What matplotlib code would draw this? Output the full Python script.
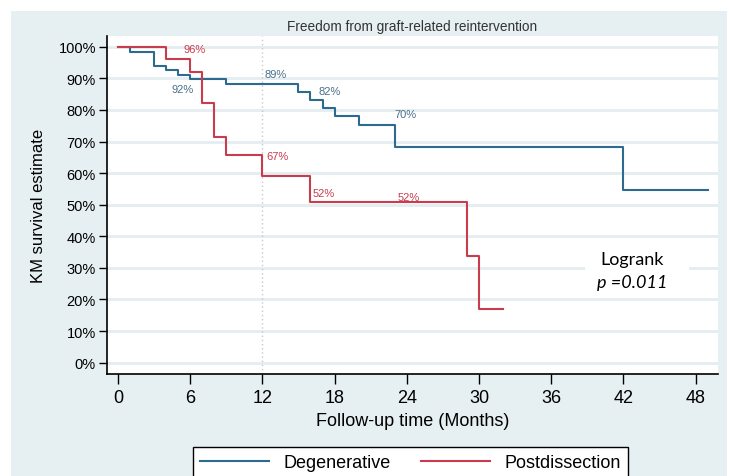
import matplotlib
matplotlib.use("Agg")
import matplotlib.pyplot as plt
from matplotlib.patches import Rectangle

# Kaplan-Meier step data (months, survival %)
deg_times = [0, 1, 3, 4, 5, 6, 9, 15, 16, 17, 18, 20, 23, 42, 49]
deg_surv = [100, 98.2, 94.0, 92.7, 91.1, 89.7, 88.1, 85.7, 83.2, 80.6, 78.0, 75.3, 68.2, 54.6, 54.6]

post_times = [0, 4, 6, 7, 8, 9, 12, 16, 29, 30, 32]
post_surv = [100, 96.0, 92.0, 82.1, 71.3, 65.7, 59.2, 50.8, 33.9, 16.9, 16.9]

# point labels: (x, y, text)
deg_labels = [(5.4, 86.6, "92%"), (13.1, 91.4, "89%"), (17.6, 86.0, "82%"), (23.9, 78.7, "70%")]
post_labels = [(6.4, 99.3, "96%"), (13.3, 65.4, "67%"), (17.1, 53.7, "52%"), (24.2, 52.4, "52%")]

x_ticks = [0, 6, 12, 18, 24, 30, 36, 42, 48]
y_ticks = list(range(0, 101, 10))

blue = "#2d6a8d"
red = "#c83c4e"
panel = "#e6eff2"
gridc = "#e4edf0"

plt.rcParams['font.family'] = ['Liberation Sans', 'DejaVu Sans']

fig = plt.figure(figsize=(7.29, 4.77), dpi=100)
fig.patch.set_facecolor(panel)
# white margins around the light panel
for r in [(0, 1 - 12 / 477, 1, 12 / 477), (0, 0, 11 / 729, 1), (727 / 729, 0, 2 / 729, 1)]:
    fig.patches.append(Rectangle(r[:2], r[2], r[3], transform=fig.transFigure,
                                 facecolor="white", edgecolor="none"))

ax = fig.add_axes([107 / 729, 1 - 375 / 477, 611 / 729, 338 / 477])
ax.set_facecolor("white")

for y in y_ticks:
    ax.axhline(y, color=gridc, lw=2, zorder=1)
ax.axvline(12, color="#c8c8c8", lw=1, ls=(0, (1, 2)), zorder=1)

ax.step(deg_times, deg_surv, where="post", color=blue, lw=1.5, zorder=3, label="Degenerative")
ax.step(post_times, post_surv, where="post", color=red, lw=1.5, zorder=3, label="Postdissection")

for x, y, s in deg_labels:
    ax.text(x, y, s, color="#4a6f8a", fontsize=8, ha="center", va="center", zorder=4)
for x, y, s in post_labels:
    ax.text(x, y, s, color=red, fontsize=8, ha="center", va="center", zorder=4)

ax.set_xlim(-0.9, 49.85)
ax.set_ylim(-3.6, 103.4)
ax.set_xticks(x_ticks)
ax.set_yticks(y_ticks)
ax.set_yticklabels([f"{v}%" for v in y_ticks], fontsize=10.5)
ax.set_xticklabels([str(v) for v in x_ticks], fontsize=13)
ax.tick_params(axis="y", length=6, width=1, pad=2)
ax.tick_params(axis="x", length=7, width=1, pad=4)
for side in ["top", "right"]:
    ax.spines[side].set_visible(False)
ax.spines["left"].set_linewidth(1.2)
ax.spines["bottom"].set_linewidth(1.2)

ax.set_xlabel("Follow-up time (Months)", fontsize=13, labelpad=4)
ax.set_ylabel("KM survival estimate", fontsize=12, labelpad=9)
ax.set_title("Freedom from graft-related reintervention", fontsize=9.8, color="#333333", pad=4)

# white box behind the logrank note
ax.add_patch(Rectangle((38.8, 20.8), 8.6, 16.8, facecolor="white", edgecolor="none", zorder=2))
ax.text(42.7, 32.8, "Logrank", fontsize=13, family=["Lato", "DejaVu Sans"], ha="center", va="center",
        zorder=5)
ax.text(42.7, 25.5, "p =0.011", fontsize=13, family=["Lato", "DejaVu Sans"], style="italic",
        ha="center", va="center", zorder=6)

fig.legend(loc="upper center", bbox_to_anchor=(410.5 / 729, 1 - 448 / 477), ncol=2,
           fontsize=13, frameon=True, fancybox=False, edgecolor="black",
           framealpha=1, handlelength=3.8, columnspacing=1.7, borderpad=0.4,
           borderaxespad=0)

fig.savefig("out.png", dpi=100, facecolor=panel)
